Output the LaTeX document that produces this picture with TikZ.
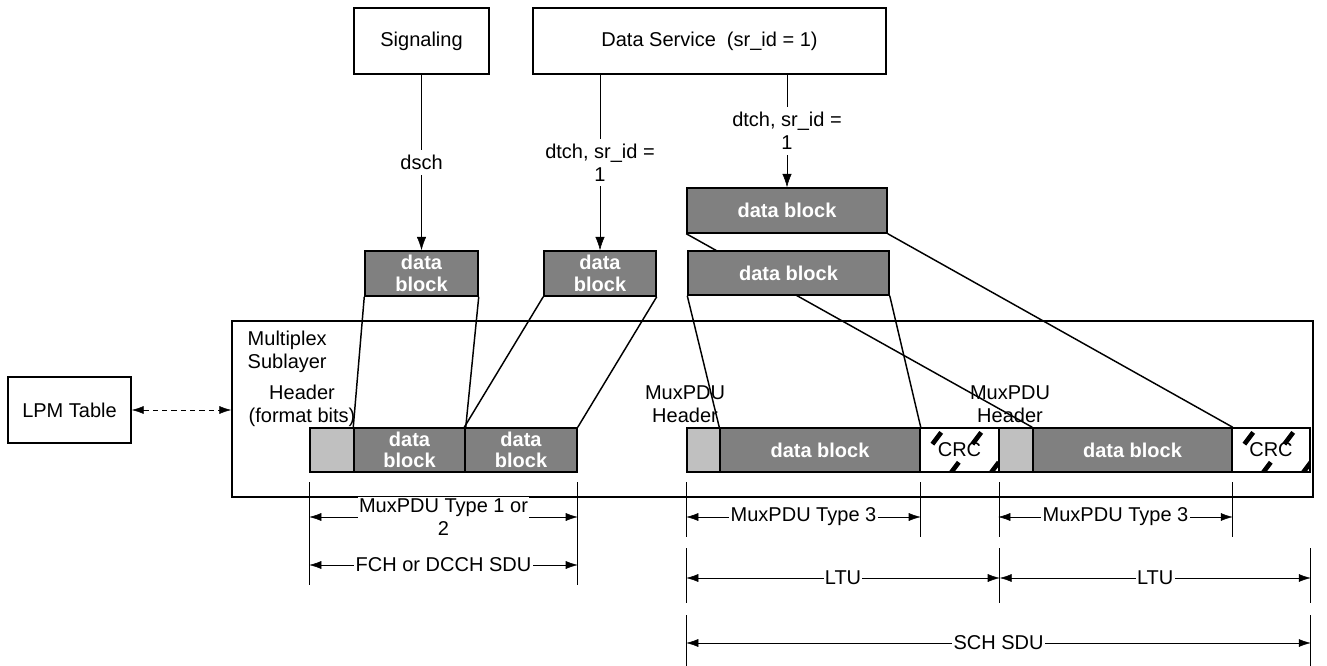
\documentclass[tikz,border=0pt]{standalone}
\usepackage{fontspec}
\setmainfont{Liberation Sans}
\usetikzlibrary{arrows.meta,calc}
\pgfdeclarelayer{bg}
\pgfsetlayers{bg,main}
\definecolor{dgray}{RGB}{128,128,128}
\definecolor{lgray}{RGB}{192,192,192}
\begin{document}
\begin{tikzpicture}[x=0.75pt,y=-0.75pt, line width=1.1pt,
  every node/.style={font=\fontsize{15}{17}\selectfont},
  spanbox/.style args={#1/#2/#3/#4}{minimum width={(#3-#1)*0.75pt}, minimum height={(#4-#2)*0.75pt},
      at={({(#1+#3)/2},{(#2+#4)/2})}},
  box/.style={draw, fill=white, inner sep=0pt, align=center},
  blk/.style={draw, fill=dgray, text=white, inner sep=0pt, align=center, font=\fontsize{15}{16}\selectfont\bfseries},
  hdr/.style={draw, fill=lgray, inner sep=0pt},
  crc/.style={draw, fill=white, inner sep=0pt, path picture={
      \foreach \o in {-50,-10,30,70,110} {
        \draw[line width=3.5pt, dash pattern=on 11pt off 17pt]
          ($(path picture bounding box.south west)+(\o,2)$) -- ++(48,-64);
      }}},
  map/.style={line width=1.1pt},
  lbl/.style={fill=white, inner xsep=1pt, inner ysep=4pt, align=center},
  dlbl/.style={fill=white, inner xsep=1pt, inner ysep=1pt, align=center},
  txt/.style={inner sep=0pt, align=center},
  tip/.tip={Latex[length=9pt,width=6pt]},
  dim/.style={{tip}-{tip}},
  arr/.style={-{Latex[length=10pt,width=7pt]}},
]
\useasboundingbox (0,0) rectangle (1327,666);

% top boxes
\node[box, spanbox=354/8/489/74] (sig) {Signaling};
\node[box, spanbox=533/8/886/74] (dsv) {Data Service\ \ (sr\_id = 1)};
\node[box, spanbox=8/377/131/443] (lpm) {LPM Table};

% multiplex sublayer frame
\node[draw, inner sep=0pt, spanbox=232/321/1313/497] (mux) {};
\node[txt, anchor=west, align=left] (muxl) at (247,351.5) {Multiplex\\Sublayer};
\node[txt] (hdrl) at (302,406) {Header\\(format bits)};
\node[txt] (mh1) at (685,404) {MuxPDU\\Header};
\node[txt] (mh2) at (1010,404) {MuxPDU\\Header};

% data blocks above
\node[blk, spanbox=365/251/478/296] (b1) {data\\block};
\node[blk, spanbox=544/251/656/296] (b2) {data\\block};
\node[blk, spanbox=687/188/887/233] (b3) {data block};
\node[blk, spanbox=688/251/889/295] (b4) {data block};

% PDU row
\node[hdr, spanbox=310/428/354/472] (h1) {};
\node[blk, spanbox=354/428/465/472] (r1) {data\\block};
\node[blk, spanbox=465/428/577/472] (r2) {data\\block};
\node[hdr, spanbox=687/428/720/472] (h2) {};
\node[blk, spanbox=720/428/920/472] (r3) {data block};
\node[crc, spanbox=920/428/999/472] (c1) {CRC};
\node[hdr, spanbox=999/428/1033/472] (h3) {};
\node[blk, spanbox=1033/428/1232/472] (r4) {data block};
\node[crc, spanbox=1232/428/1310/472] (c2) {CRC};

% mapping lines
\begin{pgfonlayer}{bg}
\draw[map] (b1.south west) -- (r1.north west);
\draw[map] (b1.south east) -- (r1.north east);
\draw[map] (b2.south west) -- (r2.north west);
\draw[map] (b2.south east) -- (r2.north east);
\draw[map] (b4.south west) -- (r3.north west);
\draw[map] (b4.south east) -- (r3.north east);
\draw[map] (b3.south west) -- (r4.north west);
\draw[map] (b3.south east) -- (r4.north east);
\end{pgfonlayer}

% channel arrows
\draw[arr] (sig.south) -- node[lbl] {dsch} (b1.north);
\draw[arr] (b2.north |- dsv.south) -- node[lbl] {dtch, sr\_id =\\1} (b2.north);
\draw[arr] (b3.north |- dsv.south) -- node[lbl] {dtch, sr\_id =\\1} (b3.north);

% LPM table link
\draw[dim, dash pattern=on 4pt off 3pt] (lpm.east) -- (lpm.east -| mux.west);

% dimension ticks (left)
\coordinate (tl1) at (h1.south west |- 0,482);
\coordinate (tl2) at (h1.south west |- 0,585);
\coordinate (tr1) at (r2.south east |- 0,482);
\coordinate (tr2) at (r2.south east |- 0,585);
\draw (tl1) -- (tl2);
\draw (tr1) -- (tr2);
\draw[dim] (h1.south west |- 0,517) -- node[dlbl] {MuxPDU Type 1 or\\2} (r2.south east |- 0,517);
\draw[dim] (h1.south west |- 0,565) -- node[dlbl] {FCH or DCCH SDU} (r2.south east |- 0,565);

% dimension ticks (right)
\foreach \n in {h2.south west, r3.south east, c1.south east, r4.south east} {
  \draw (\n |- 0,482) -- (\n |- 0,537);
}
\foreach \n in {h2.south west, c1.south east, c2.south east} {
  \draw (\n |- 0,548) -- (\n |- 0,603);
}
\foreach \n in {h2.south west, c2.south east} {
  \draw (\n |- 0,615) -- (\n |- 0,666);
}
\draw[dim] (h2.south west |- 0,517) -- node[dlbl] {MuxPDU Type 3} (r3.south east |- 0,517);
\draw[dim] (h3.south west |- 0,517) -- node[dlbl] {MuxPDU Type 3} (r4.south east |- 0,517);
\draw[dim] (h2.south west |- 0,578) -- node[dlbl] {LTU} (c1.south east |- 0,578);
\draw[dim] (c1.south east |- 0,578) -- node[dlbl] {LTU} (c2.south east |- 0,578);
\draw[dim] (h2.south west |- 0,643) -- node[dlbl] {SCH SDU} (c2.south east |- 0,643);
\end{tikzpicture}
\end{document}
